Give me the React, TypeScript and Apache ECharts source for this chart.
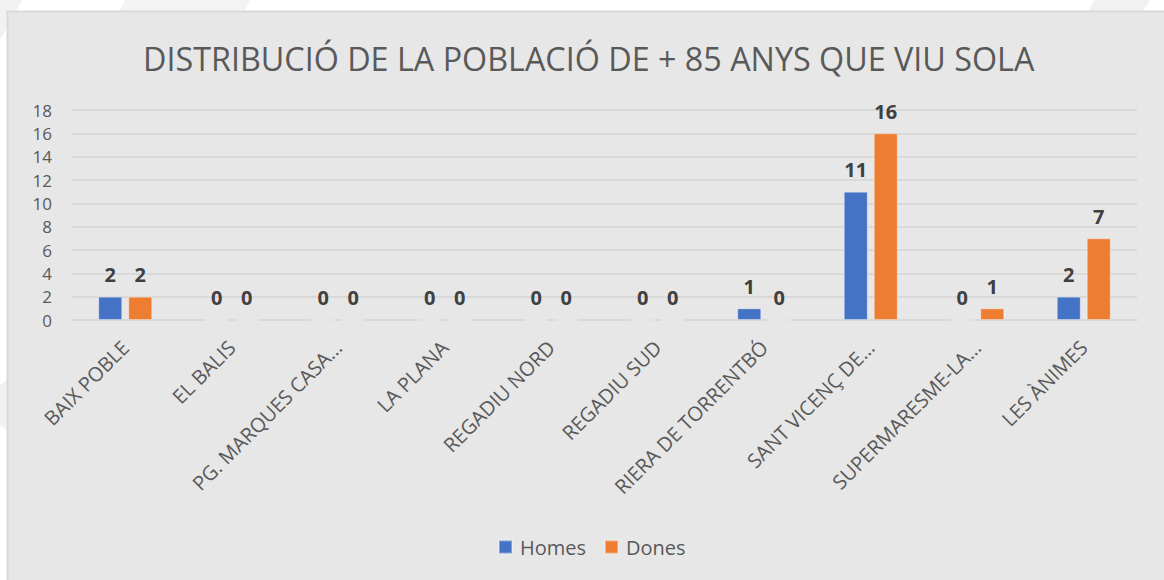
import React, { useEffect, useRef } from "react";
import * as echarts from "echarts";

const categories = [
  "BAIX POBLE",
  "EL BALIS",
  "PG. MARQUES CASA…",
  "LA PLANA",
  "REGADIU NORD",
  "REGADIU SUD",
  "RIERA DE TORRENTBÓ",
  "SANT VICENÇ DE…",
  "SUPERMARESME-LA…",
  "LES ÀNIMES",
];
const homes = [2, 0, 0, 0, 0, 0, 1, 11, 0, 2];
const dones = [2, 0, 0, 0, 0, 0, 0, 16, 1, 7];
const titleText = "DISTRIBUCIÓ DE LA POBLACIÓ DE + 85 ANYS QUE VIU SOLA";

const FONT = "'Open Sans', 'Noto Sans', sans-serif";

export default function App() {
  const ref = useRef<HTMLDivElement>(null);
  useEffect(() => {
    if (!ref.current) return;
    const chart = echarts.init(ref.current, undefined, { renderer: "svg" });
    const labelStyle = {
      show: true,
      position: "top" as const,
      distance: 12,
      fontFamily: FONT,
      fontWeight: "bold" as const,
      fontSize: 20,
      lineHeight: 20,
      color: "#404040",
    };
    chart.setOption({
      animation: false,
      backgroundColor: "#ffffff",
      textStyle: { fontFamily: FONT },
      graphic: [
        { type: "polygon", z: -10, silent: true, shape: { points: [[0, 0], [22, 0], [0, 40]] }, style: { fill: "#f1f1f1" } },
        { type: "polygon", z: -10, silent: true, shape: { points: [[125, 0], [250, 0], [245, 11], [120, 11]] }, style: { fill: "#f3f3f3" } },
        { type: "polygon", z: -10, silent: true, shape: { points: [[1095, 0], [1150, 0], [1143, 11], [1088, 11]] }, style: { fill: "#f1f1f1" } },
        { type: "polygon", z: -10, silent: true, shape: { points: [[0, 385], [7, 380], [7, 430], [0, 425]] }, style: { fill: "#f1f1f1" } },
        {
          type: "rect",
          z: -5,
          silent: true,
          shape: { x: 7.5, y: 11.5, width: 1170, height: 580 },
          style: { fill: "#e7e7e7", stroke: "#d9d9d9", lineWidth: 2 },
        },
      ],
      title: {
        text: titleText,
        left: 138,
        top: 37,
        textStyle: {
          fontFamily: FONT,
          fontWeight: "normal",
          fontSize: 32.3,
          color: "#595959",
        },
      },
      legend: {
        data: ["Homes", "Dones"],
        bottom: 18,
        left: 493,
        icon: "rect",
        itemWidth: 13,
        itemHeight: 13,
        itemGap: 18,
        textStyle: { fontFamily: FONT, fontSize: 20, color: "#595959", padding: [0, 0, 0, 3] },
      },
      grid: { left: 72, right: 27, top: 110, bottom: 260, containLabel: false },
      xAxis: {
        type: "category",
        data: categories,
        axisLine: { show: true, lineStyle: { color: "#d9d9d9", width: 2 } },
        axisTick: { show: false },
        axisLabel: {
          rotate: 45,
          interval: 0,
          margin: 24,
          fontFamily: FONT,
          fontSize: 20,
          color: "#595959",
        },
      },
      yAxis: {
        type: "value",
        min: 0,
        max: 18,
        interval: 2,
        axisLine: { show: false },
        axisTick: { show: false },
        splitLine: { lineStyle: { color: "#d9d9d9", width: 2 } },
        axisLabel: { margin: 20, fontFamily: FONT, fontSize: 17, lineHeight: 17, color: "#595959" },
      },
      series: [
        {
          name: "Homes",
          type: "bar",
          data: homes,
          barWidth: 24,
          barGap: "25%",
          itemStyle: { color: "#4472c4", borderColor: "rgba(255,255,255,0.35)", borderWidth: 1 },
          label: labelStyle,
        },
        {
          name: "Dones",
          type: "bar",
          data: dones,
          barWidth: 24,
          itemStyle: { color: "#ed7d31", borderColor: "rgba(255,255,255,0.35)", borderWidth: 1 },
          label: labelStyle,
        },
      ],
    });
    return () => chart.dispose();
  }, []);
  return (
    <div
      ref={ref}
      style={{ position: "fixed", left: 0, top: 0, width: 1164, height: 580 }}
    />
  );
}
